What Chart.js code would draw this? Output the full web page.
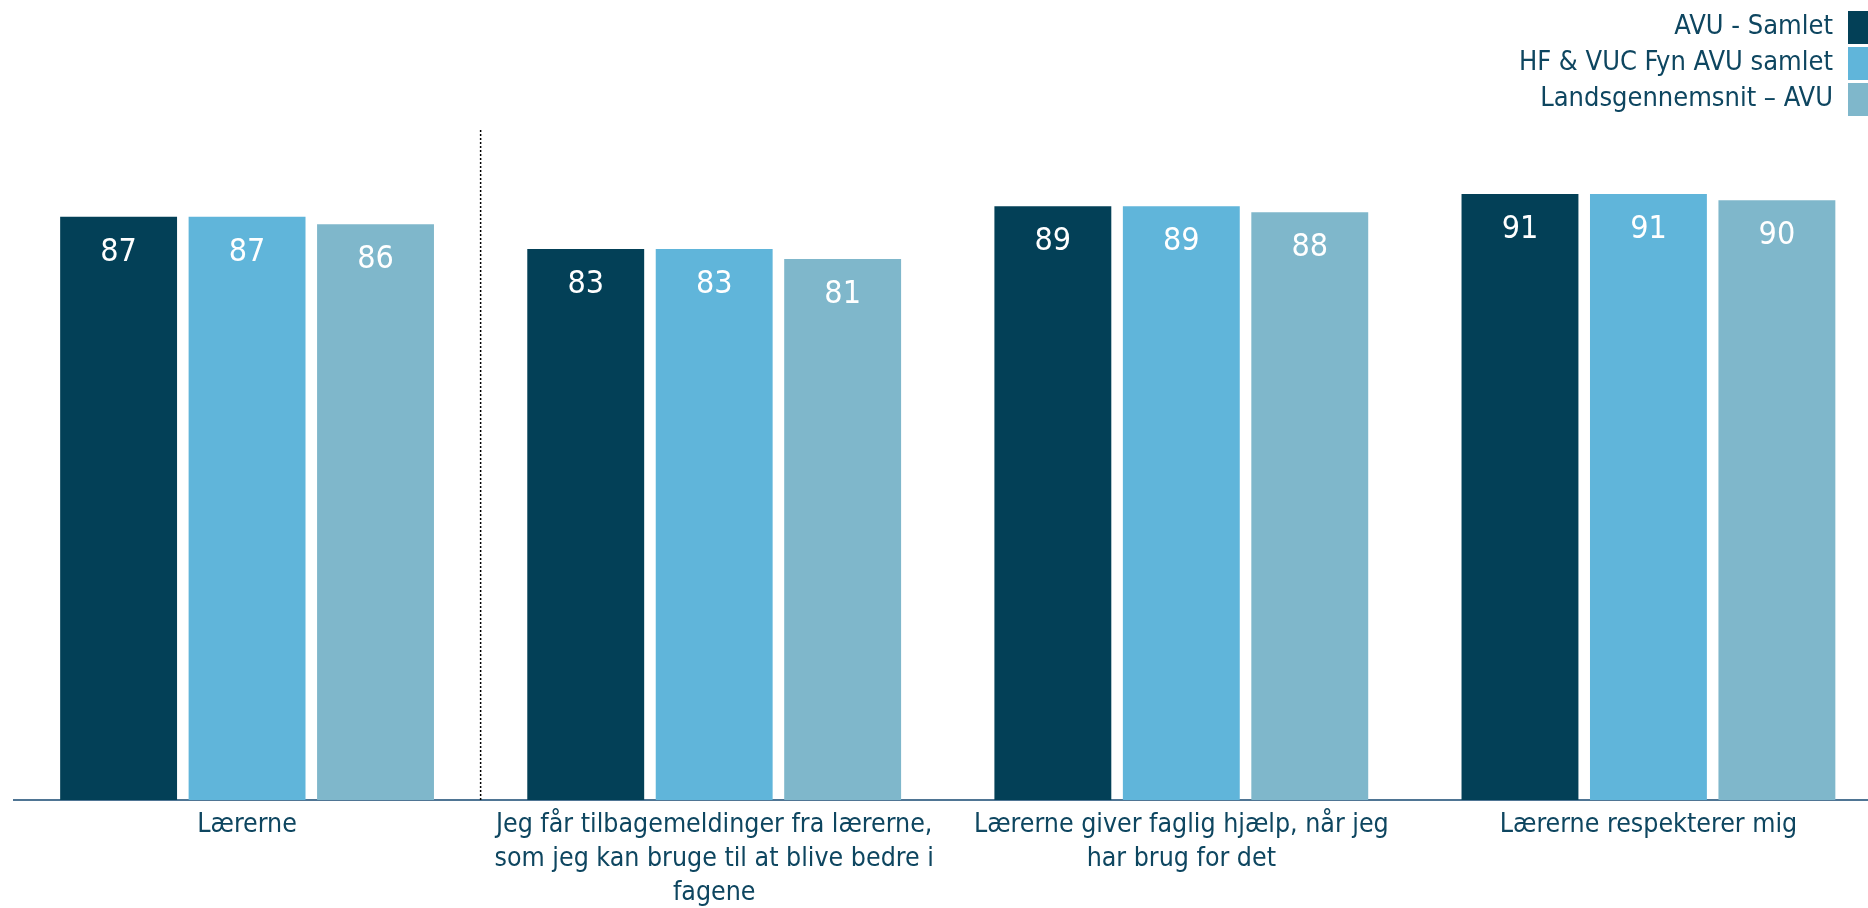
<!DOCTYPE html>
<html>
<head>
<meta charset="utf-8">
<script src="https://cdn.jsdelivr.net/npm/chart.js@4"></script>
<style>
  html, body { margin: 0; padding: 0; background: #fff; overflow: hidden; }
  #wrap { position: relative; width: 1882px; height: 908px; }
</style>
</head>
<body>
<div id="wrap"><canvas id="c" width="1882" height="908"></canvas></div>
<script>
const categories = [
  ["Lærerne"],
  ["Jeg får tilbagemeldinger fra lærerne,", "som jeg kan bruge til at blive bedre i", "fagene"],
  ["Lærerne giver faglig hjælp, når jeg", "har brug for det"],
  ["Lærerne respekterer mig"]
];
const seriesNames = ["AVU - Samlet", "HF & VUC Fyn AVU samlet", "Landsgennemsnit – AVU"];
const avuSamlet = [87.3, 82.5, 88.9, 90.7];
const hfVucFyn = [87.3, 82.5, 88.9, 90.7];
const landsgennemsnit = [86.2, 81.0, 88.0, 89.8];
const seriesColors = ["#034057", "#60B5DA", "#7FB7CB"];
const textColor = "#0E4660";
const fontFamily = "'DejaVu Sans Condensed', 'DejaVu Sans', sans-serif";

const valueLabels = {
  id: 'valueLabels',
  afterDatasetsDraw(chart) {
    const ctx = chart.ctx;
    ctx.save();
    ctx.fillStyle = '#ffffff';
    ctx.font = '32px ' + fontFamily;
    ctx.textAlign = 'center';
    ctx.textBaseline = 'middle';
    chart.data.datasets.forEach((ds, i) => {
      chart.getDatasetMeta(i).data.forEach((bar, j) => {
        ctx.fillText(String(Math.round(ds.data[j])), bar.x, bar.y + 36);
      });
    });
    ctx.restore();
  }
};

const divider = {
  id: 'divider',
  afterDraw(chart) {
    const x = chart.scales.x;
    const y = chart.scales.y;
    const px = (x.getPixelForValue(0) + x.getPixelForValue(1)) / 2;
    const ctx = chart.ctx;
    ctx.save();
    ctx.strokeStyle = '#000000';
    ctx.lineWidth = 1.5;
    ctx.setLineDash([2, 2]);
    ctx.beginPath();
    ctx.moveTo(px, y.getPixelForValue(100) - 2);
    ctx.lineTo(px, chart.chartArea.bottom);
    ctx.stroke();
    ctx.restore();
  }
};

const customLegend = {
  id: 'customLegend',
  afterDraw(chart) {
    const ctx = chart.ctx;
    ctx.save();
    ctx.font = '27px ' + fontFamily;
    ctx.textAlign = 'right';
    ctx.textBaseline = 'middle';
    chart.data.datasets.forEach((ds, i) => {
      const top = 11 + i * 36;
      ctx.fillStyle = ds.backgroundColor;
      ctx.fillRect(1848, top, 33, 33);
      ctx.fillStyle = textColor;
      ctx.fillText(ds.label, 1833, top + 16);
    });
    ctx.restore();
  }
};

new Chart(document.getElementById('c'), {
  type: 'bar',
  data: {
    labels: categories,
    datasets: [
      { label: seriesNames[0], data: avuSamlet, backgroundColor: seriesColors[0] },
      { label: seriesNames[1], data: hfVucFyn, backgroundColor: seriesColors[1] },
      { label: seriesNames[2], data: landsgennemsnit, backgroundColor: seriesColors[2] }
    ]
  },
  options: {
    responsive: false,
    animation: false,
    devicePixelRatio: 1,
    layout: { padding: { top: 132, left: 13.5, right: 0, bottom: 0 } },
    datasets: { bar: { categoryPercentage: 0.825, barPercentage: 0.91, borderWidth: 0 } },
    plugins: { legend: { display: false }, tooltip: { enabled: false } },
    scales: {
      y: { display: false, min: 0, max: 100 },
      x: {
        grid: { display: false, drawTicks: false },
        border: { display: true, color: '#4F7594', width: 2 },
        ticks: {
          color: textColor,
          font: { family: fontFamily, size: 26.5, lineHeight: 1.29 },
          padding: 8,
          maxRotation: 0,
          autoSkip: false
        },
        afterFit(scale) { scale.height = 108; }
      }
    }
  },
  plugins: [valueLabels, divider, customLegend]
});
</script>
</body>
</html>
